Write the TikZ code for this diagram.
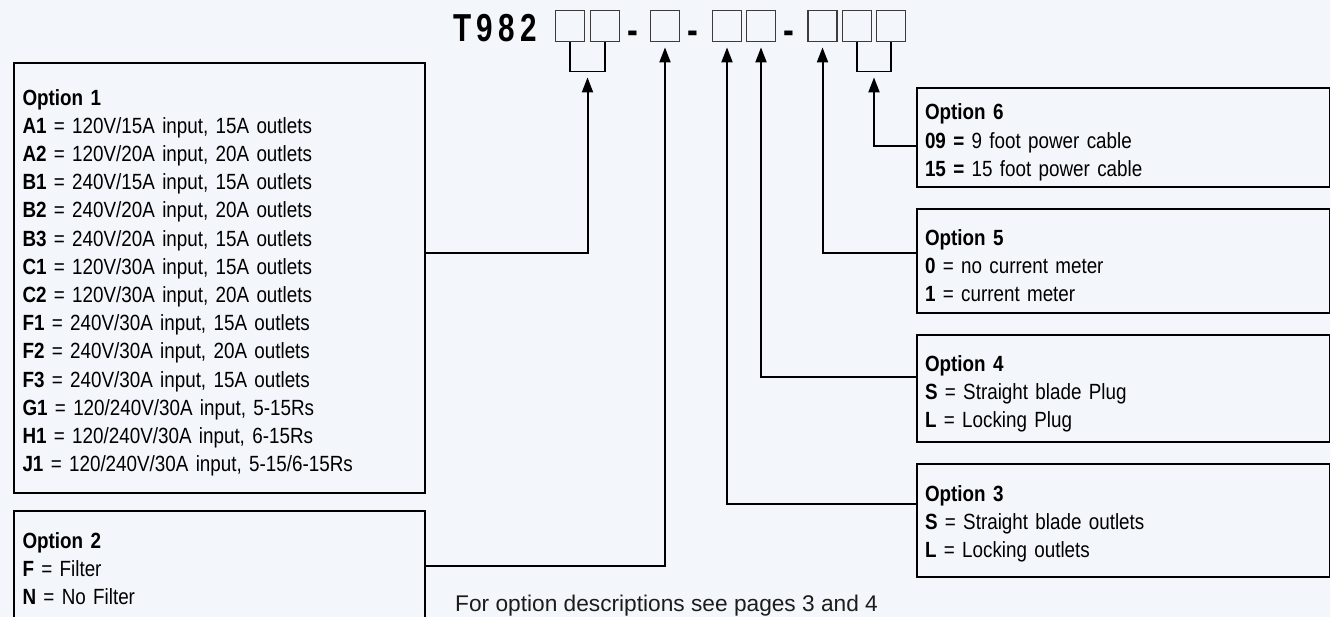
\documentclass[tikz,border=0pt]{standalone}
\usepackage{fontspec}
\setmainfont{Liberation Sans}[FakeStretch=0.856, WordSpace=0.85]
\newfontfamily\codefont{Liberation Sans}[FakeStretch=0.76, LetterSpace=14]
\newfontfamily\dashfont{Liberation Sans}[FakeStretch=0.83]
\newfontfamily\notefont{Liberation Sans}
\usepackage{xcolor}
\usetikzlibrary{calc,arrows.meta}
\definecolor{bg}{HTML}{F3F7FB}
\definecolor{ink}{HTML}{000000}
\definecolor{cellgray}{HTML}{3C3C3C}
\definecolor{note}{HTML}{1C1C1C}
\tikzset{
  optBox/.style 2 args={draw=ink, line width=2pt, anchor=north west, inner xsep=8.5pt, inner ysep=0pt,
    text height=#1pt, text depth=#2pt, align=left, text=ink, font=\fontsize{22}{28.2}\selectfont},
  leftBox/.style 2 args={optBox={#1}{#2}, text width=394pt},
  rightBox/.style 2 args={optBox={#1}{#2}, text width=396pt},
  cell/.style={draw=cellgray, line width=1.3pt, minimum width=29pt, minimum height=31.5pt, inner sep=0pt},
  brace/.style={draw=ink, line width=1.3pt},
  link/.style={draw=ink, line width=2pt, -{Triangle[length=15pt, width=11pt]}},
  codeLbl/.style={text=ink, inner sep=0pt, anchor=base west, font=\codefont\bfseries\fontsize{39}{39}\selectfont},
  dashLbl/.style={text=ink, inner sep=0pt, anchor=base, font=\dashfont\bfseries\fontsize{39}{39}\selectfont},
  noteLbl/.style={text=note, inner sep=0pt, anchor=base west, font=\notefont\fontsize{22.7}{27}\selectfont},
}

\begin{document}
\begin{tikzpicture}[x=1pt, y=-1pt]
  \fill[bg] (0,0) rectangle (1330,617);
  \useasboundingbox (0,0) rectangle (1330,617);

  % part number and its slots
  \node[codeLbl] (code) at (453,42) {T982};
  \foreach \slot/\cx in {d1/570, d2/605, d3/665, d4/727, d5/761, d6/822.5, d7/857, d8/891}
    \node[cell] (\slot) at (\cx,26) {};
  \node[dashLbl] (dashA) at (632.5,44) {-};
  \node[dashLbl] (dashB) at (693,44) {-};
  \node[dashLbl] (dashC) at (788.5,44) {-};

  \coordinate (j12) at ($(d1.south)!0.5!(d2.south)+(0,29)$);
  \coordinate (j78) at ($(d7.south)!0.5!(d8.south)+(0,29)$);
  \draw[brace] (d1.south) |- (j12) -| (d2.south);
  \draw[brace] (d7.south) |- (j78) -| (d8.south);

  % option boxes
  \node[leftBox={41.7}{387.3}] (opt1) at (13,62.5) {\textbf{Option 1}\\
    \textbf{A1} = 120V/15A input, 15A outlets\\
    \textbf{A2} = 120V/20A input, 20A outlets\\
    \textbf{B1} = 240V/15A input, 15A outlets\\
    \textbf{B2} = 240V/20A input, 20A outlets\\
    \textbf{B3} = 240V/20A input, 15A outlets\\
    \textbf{C1} = 120V/30A input, 15A outlets\\
    \textbf{C2} = 120V/30A input, 20A outlets\\
    \textbf{F1} = 240V/30A input, 15A outlets\\
    \textbf{F2} = 240V/30A input, 20A outlets\\
    \textbf{F3} = 240V/30A input, 15A outlets\\
    \textbf{G1} = 120/240V/30A input, 5-15Rs\\
    \textbf{H1} = 120/240V/30A input, 6-15Rs\\
    \textbf{J1} = 120/240V/30A input, 5-15/6-15Rs};
  \node[leftBox={37.5}{80}] (opt2) at (13,510) {\textbf{Option 2}\\
    \textbf{F} = Filter\\
    \textbf{N} = No Filter};

  \node[rightBox={31.7}{67}] (opt6) at (915.5,87.3) {\textbf{Option 6}\\
    \textbf{09 =} 9 foot power cable\\
    \textbf{15 =} 15 foot power cable};
  \node[rightBox={36}{68}] (opt5) at (915.5,208.3) {\textbf{Option 5}\\
    \textbf{0} = no current meter\\
    \textbf{1} = current meter};
  \node[rightBox={36}{71}] (opt4) at (915.5,334) {\textbf{Option 4}\\
    \textbf{S} = Straight blade Plug\\
    \textbf{L} = Locking Plug};
  \node[rightBox={36.7}{76}] (opt3) at (915.5,463.3) {\textbf{Option 3}\\
    \textbf{S} = Straight blade outlets\\
    \textbf{L} = Locking outlets};

  % connectors
  \draw[link] (opt1.east |- 0,253) -| ($(j12)+(0,6)$);
  \draw[link] (opt2.east |- 0,566) -| ($(d3.south)+(0,5)$);
  \draw[link] (opt3.west |- 0,504) -| ($(d4.south)+(0,5)$);
  \draw[link] (opt4.west |- 0,377) -| ($(d5.south)+(0,5)$);
  \draw[link] (opt5.west |- 0,253) -| ($(d6.south)+(0,5)$);
  \draw[link] (opt6.west |- 0,146) -| ($(j78)+(0,6)$);

  \node[noteLbl] (note) at (455,611) {For option descriptions see pages 3 and 4};
\end{tikzpicture}
\end{document}
